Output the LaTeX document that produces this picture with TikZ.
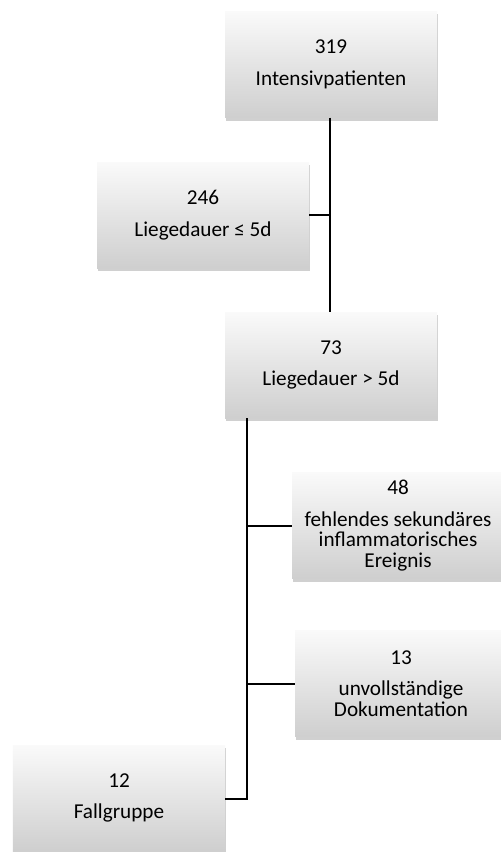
\documentclass[tikz,border=0pt]{standalone}
\usepackage{fontspec}
\setmainfont{Carlito}
\usetikzlibrary{shadows}
\begin{document}
\begin{tikzpicture}[x=1bp,y=-1bp,
  box/.style={minimum width=212bp, minimum height=106bp, inner sep=0pt,
    top color=white!98!black, bottom color=black!19, draw=none,
    drop shadow={shadow xshift=0.5bp, shadow yshift=-3bp, opacity=0.3, fill=black!60},
    align=center, font=\fontsize{21.2bp}{20.5bp}\selectfont},
  conn/.style={line width=2bp, black}]
\clip (0,0) rectangle (501,852);
\fill[white] (0,0) rectangle (501,852);
\node[box] (a) at (331,64.5) {319\\[11bp]Intensivpatienten};
\node[box] (b) at (203,215) {246\\[11bp]Liegedauer ≤ 5d};
\node[box] (c) at (331,365) {73\\[11bp]Liegedauer > 5d};
\node[box] (d) at (398,525.5) {48\\[11bp]fehlendes sekundäres\\inflammatorisches\\Ereignis};
\node[box] (e) at (401,683.5) {13\\[11bp]unvollständige\\Dokumentation};
\node[box] (f) at (119,798) {12\\[11bp]Fallgruppe};
\coordinate (j1) at (330,215);
\coordinate (top2) at (247,418);
\coordinate (j2) at (247,525.5);
\coordinate (j3) at (247,683.5);
\coordinate (j4) at (247,799);
\draw[conn] (a.south -| j1) -- (c.north -| j1);
\draw[conn] (b.east) -- (j1);
\draw[conn] (c.south -| top2) -- (j4) -- (f.east |- j4);
\draw[conn] (j2) -- (d.west);
\draw[conn] (j3) -- (e.west);
\end{tikzpicture}
\end{document}
